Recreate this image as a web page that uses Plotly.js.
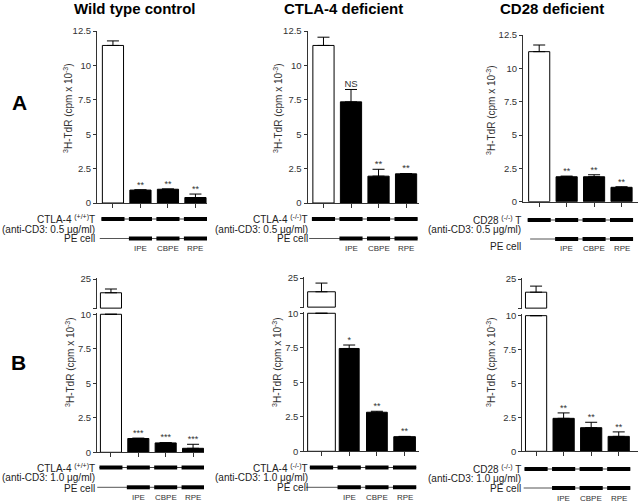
<!DOCTYPE html>
<html>
<head>
<meta charset="utf-8">
<script src="https://cdn.plot.ly/plotly-3.0.1.min.js"></script>
<style>html,body{margin:0;padding:0;background:#fff;}#chart{width:640px;height:502px;}</style>
</head>
<body>
<div id="chart"></div>
<script>
// ---------- DATA ----------
const categories = ['', 'IPE', 'CBPE', 'RPE'];
const peCell = [0, 1, 1, 1];            // PE cell present (thick) or absent (thin)
const tCell = [1, 1, 1, 1];             // T cell present

// Row A : anti-CD3 0.5 ug/ml
const wtA = [11.45, 0.94, 1.0, 0.4];
const wtAErr = [0.33, 0.02, 0.02, 0.25];
const ctlaA = [11.45, 7.35, 1.95, 2.12];
const ctlaAErr = [0.6, 0.9, 0.5, 0.02];
const cd28A = [11.25, 1.87, 1.87, 1.08];
const cd28AErr = [0.5, 0.05, 0.15, 0.04];
// Row B : anti-CD3 1.0 ug/ml
const wtB = [20.3, 1.0, 0.68, 0.29];
const wtBErr = [1.3, 0.03, 0.02, 0.29];
const ctlaB = [20.3, 7.45, 2.83, 1.06];
const ctlaBErr = [3.0, 0.25, 0.07, 0.02];
const cd28B = [20.5, 2.43, 1.74, 1.1];
const cd28BErr = [2.1, 0.4, 0.4, 0.33];

const sigWtA = ['', '**', '**', '**'];
const sigCtlaA = ['', 'NS', '**', '**'];
const sigCd28A = ['', '**', '**', '**'];
const sigWtB = ['', '***', '***', '***'];
const sigCtlaB = ['', '*', '**', '**'];
const sigCd28B = ['', '**', '**', '**'];

const yTicksA = [0, 2.5, 5, 7.5, 10, 12.5];
const yTicksB = [0, 2.5, 5, 7.5, 10];
const yTicksBUpper = [15, 25];
const yTickTextBUpper = ['', '25'];

const panelTitles = ['Wild type control', 'CTLA-4 deficient', 'CD28 deficient'];
const tLabels = ['CTLA-4 <sup>(+/+)</sup>T', 'CTLA-4 <sup>(-/-)</sup>T', 'CD28 <sup>(-/-)</sup> T'];
const doseA = '(anti-CD3: 0.5 μg/ml)';
const doseB = '(anti-CD3: 1.0 μg/ml)';
const peLabel = 'PE cell';
const yTitle = '<sup>3</sup>H-TdR (cpm x 10<sup>-3</sup>)';
const rowLetters = ['A', 'B'];

// ---------- LAYOUT HELPERS ----------
const W = 640, H = 502;
const px = v => v / W;
const py = v => 1 - v / H;
const FONT = 'Arial, "Liberation Sans", sans-serif';
const fmt = v => String(v);

const panels = [
  {vals: wtA, err: wtAErr, sig: sigWtA, tl: tLabels[0], dose: doseA, x: [97, 207], xr: [-0.58, 3.42], y: [31, 203], broken: false,
   rows: {t: 219, d: 229, pe: 238.5, peText: 238.5, cat: 248.5, lab: 95.5, peStart: -0.48}, ytitle: [68, 108]},
  {vals: ctlaA, err: ctlaAErr, sig: sigCtlaA, tl: tLabels[1], dose: doseA, x: [307.5, 419], xr: [-0.58, 3.47], y: [31, 203], broken: false,
   rows: {t: 219, d: 229, pe: 238.5, peText: 238.5, cat: 248.5, lab: 309, peStart: -0.52}, ytitle: [278, 108]},
  {vals: cd28A, err: cd28AErr, sig: sigCd28A, tl: tLabels[2], dose: doseA, x: [523, 638], xr: [-0.59, 3.6], y: [35, 201.7], broken: false,
   rows: {t: 220, d: 229.5, pe: 239, peText: 246.5, cat: 248.5, lab: 522, peStart: -0.33}, ytitle: [491, 110]},
  {vals: wtB, err: wtBErr, sig: sigWtB, tl: tLabels[0], dose: doseB, x: [97, 204], xr: [-0.51, 3.4], y: [312.9, 452.3], up: [278, 309], broken: true,
   rows: {t: 467.5, d: 477.7, pe: 487.3, peText: 488, cat: 497.7, lab: 95.5, peStart: -0.5}, ytitle: [70, 362]},
  {vals: ctlaB, err: ctlaBErr, sig: sigCtlaB, tl: tLabels[1], dose: doseB, x: [304.3, 419.3], xr: [-0.62, 3.53], y: [311.9, 451.3], up: [277, 308], broken: true, wide: true,
   rows: {t: 467.5, d: 477.7, pe: 487.3, peText: 487.3, cat: 497.7, lab: 309, peStart: -0.55}, ytitle: [277, 362]},
  {vals: cd28B, err: cd28BErr, sig: sigCd28B, tl: tLabels[2], dose: doseB, x: [522.3, 638], xr: [-0.5, 3.7], y: [314.3, 451.3], up: [278, 309], broken: true,
   rows: {t: 469, d: 478.5, pe: 488, peText: 488, cat: 498.3, lab: 522, peStart: -0.45}, ytitle: [491, 362]}
];

const idx = categories.map((c, i) => i);
const traces = [];
const layout = {
  width: W, height: H, margin: {l: 0, r: 0, t: 0, b: 0},
  paper_bgcolor: '#fff', plot_bgcolor: 'rgba(0,0,0,0)',
  showlegend: false, font: {family: FONT, color: '#222'},
  shapes: [], annotations: [], bargap: 0.24
};
const AXCOL = '#333';
const BREAK = 10;
const UPBASE = 15;

panels.forEach((p, n) => {
  const k = n + 1;
  const xs = k === 1 ? '' : String(k);
  const xName = 'x' + xs, yName = 'y' + xs;
  const lowerVals = p.broken ? p.vals.map(v => Math.min(v, BREAK)) : p.vals;
  const lowerErr = p.broken ? p.err.map((e, i) => p.vals[i] > BREAK ? 0 : e) : p.err;
  const widths = p.wide ? [1.0, 0.72, 0.75, 0.78] : [0.77, 0.77, 0.77, 0.77];

  traces.push({
    type: 'bar', x: idx, y: lowerVals, xaxis: xName, yaxis: yName, width: widths,
    marker: {color: p.vals.map((v, i) => i === 0 ? '#ffffff' : '#000000'), line: {color: '#000', width: 1}},
    error_y: {type: 'data', symmetric: false, array: lowerErr, arrayminus: lowerErr.map(() => 0), color: '#000', thickness: 1, width: 6},
    hoverinfo: 'skip'
  });
  // significance labels
  traces.push({
    type: 'scatter', mode: 'text', x: idx.slice(1), y: lowerVals.slice(1).map((v, i) => v + lowerErr[i + 1]),
    text: p.sig.slice(1), textposition: 'top center', cliponaxis: false,
    textfont: {family: FONT, size: p.sig.includes('NS') ? 9.5 : 9, color: '#333'},
    xaxis: xName, yaxis: yName, hoverinfo: 'skip'
  });

  layout['xaxis' + xs] = {
    domain: [px(p.x[0]), px(p.x[1])], range: p.xr, anchor: yName,
    showline: true, linecolor: AXCOL, linewidth: 1, ticks: 'outside', ticklen: 4, tickcolor: AXCOL, tickwidth: 1,
    tickvals: idx, showticklabels: false, showgrid: false, zeroline: false, fixedrange: true
  };
  const yt = p.broken ? yTicksB : yTicksA;
  layout['yaxis' + xs] = {
    domain: [py(p.y[1]), py(p.y[0])], range: p.broken ? [0, 10.1] : [0, 12.5], anchor: xName,
    showline: true, linecolor: AXCOL, linewidth: 1, ticks: 'outside', ticklen: 3, tickcolor: AXCOL, tickwidth: 1,
    tickvals: yt, ticktext: yt.map(fmt), tickfont: {family: FONT, size: 9.5, color: '#333'},
    showgrid: false, zeroline: false, fixedrange: true
  };

  if (p.broken) {
    const uk = 6 + (n - 2);
    const uName = 'y' + uk;
    const upIdx = idx.filter(i => p.vals[i] > BREAK);
    traces.push({
      type: 'bar', x: upIdx, y: upIdx.map(i => p.vals[i] - UPBASE), base: UPBASE, xaxis: xName, yaxis: uName,
      width: upIdx.map(i => widths[i]),
      marker: {color: '#ffffff', line: {color: '#000', width: 1}},
      error_y: {type: 'data', symmetric: false, array: upIdx.map(i => p.err[i]), arrayminus: upIdx.map(() => 0), color: '#000', thickness: 1, width: 6},
      hoverinfo: 'skip'
    });
    layout['yaxis' + uk] = {
      domain: [py(p.up[1]), py(p.up[0])], range: [14.7, 25.4], anchor: xName,
      showline: true, linecolor: AXCOL, linewidth: 1, ticks: 'outside', ticklen: 3, tickcolor: AXCOL, tickwidth: 1,
      tickvals: yTicksBUpper, ticktext: yTickTextBUpper, tickfont: {family: FONT, size: 9.5, color: '#333'},
      showgrid: false, zeroline: false, fixedrange: true
    };
  }

  // treatment rows below each panel
  const xEnd = idx.length - 1 + 0.42;
  layout.shapes.push({type: 'line', xref: xName, yref: 'paper', x0: -0.42, x1: xEnd, y0: py(p.rows.t), y1: py(p.rows.t), line: {color: '#444', width: 1}});
  layout.shapes.push({type: 'line', xref: xName, yref: 'paper', x0: p.rows.peStart, x1: xEnd, y0: py(p.rows.pe), y1: py(p.rows.pe), line: {color: '#555', width: 1}});
  idx.forEach(i => {
    if (tCell[i]) layout.shapes.push({type: 'line', xref: xName, yref: 'paper', x0: i - 0.42, x1: i + 0.42, y0: py(p.rows.t), y1: py(p.rows.t), line: {color: '#000', width: 4}});
    if (peCell[i]) layout.shapes.push({type: 'line', xref: xName, yref: 'paper', x0: i - 0.42, x1: i + 0.42, y0: py(p.rows.pe), y1: py(p.rows.pe), line: {color: '#000', width: 4}});
    if (categories[i]) layout.annotations.push({xref: xName, yref: 'paper', x: i, y: py(p.rows.cat), text: categories[i], showarrow: false,
      xanchor: 'center', yanchor: 'middle', font: {family: FONT, size: 8, color: '#333'}});
  });
  const rowText = (t, y) => layout.annotations.push({xref: 'paper', yref: 'paper', x: px(p.rows.lab), y: py(y), text: t, showarrow: false,
    xanchor: 'right', yanchor: 'middle', borderpad: 0, font: {family: FONT, size: 10, color: '#222'}});
  rowText(p.tl, p.rows.t);
  rowText(p.dose, p.rows.d);
  rowText(peLabel, p.rows.peText);

  // y axis title
  layout.annotations.push({xref: 'paper', yref: 'paper', x: px(p.ytitle[0]), y: py(p.ytitle[1]), text: yTitle, textangle: -90,
    showarrow: false, xanchor: 'center', yanchor: 'middle', font: {family: FONT, size: 10, color: '#333'}});
});

// panel titles and row letters
[[135, panelTitles[0]], [343, panelTitles[1]], [552, panelTitles[2]]].forEach(([x, t]) => {
  layout.annotations.push({xref: 'paper', yref: 'paper', x: px(x), y: py(8.5), text: '<b>' + t + '</b>', showarrow: false,
    xanchor: 'center', yanchor: 'middle', borderpad: 0, font: {family: FONT, size: 15, color: '#000'}});
});
[[19, 102, rowLetters[0]], [18, 362, rowLetters[1]]].forEach(([x, y, t]) => {
  layout.annotations.push({xref: 'paper', yref: 'paper', x: px(x), y: py(y), text: '<b>' + t + '</b>', showarrow: false,
    xanchor: 'center', yanchor: 'middle', font: {family: FONT, size: 21, color: '#000'}});
});

Plotly.newPlot('chart', traces, layout, {staticPlot: true, displayModeBar: false});
</script>
</body>
</html>
